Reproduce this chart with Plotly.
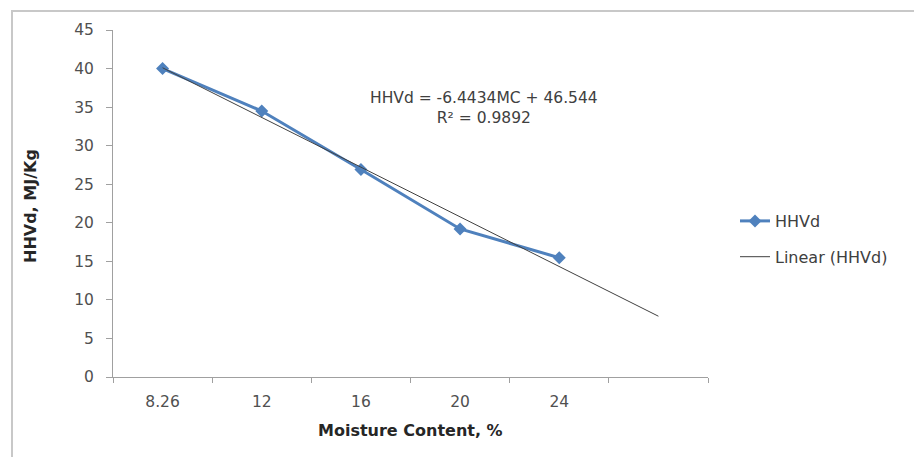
import plotly.graph_objects as go

categories = ["8.26", "12", "16", "20", "24"]
hhvd = [40.0, 34.5, 26.9, 19.2, 15.47]
trend_slope = -6.4434
trend_intercept = 46.544
r_squared = 0.9892
y_ticks = [0, 5, 10, 15, 20, 25, 30, 35, 40, 45]

all_cats = categories + [" "]
trend_x = list(range(1, len(all_cats) + 1))
trend_y = [trend_slope * i + trend_intercept for i in trend_x]

FONT = "'DejaVu Sans', sans-serif"
# page has an 8px body margin; figure sized to fit the window
W, H = 914, 449
L, R, T, B = 105, 214, 22, 80
PW, PH = W - L - R, H - T - B


def px(xf):
    return (xf - L) / PW


def py(yf):
    return (H - B - yf) / PH


fig = go.Figure()
fig.add_trace(go.Scatter(
    x=categories, y=hhvd, name="HHVd", mode="lines+markers", legendgroup="a",
    line=dict(color="#4F81BD", width=3),
    marker=dict(symbol="diamond", size=10, color="#4F81BD"),
))
fig.add_trace(go.Scatter(
    x=all_cats, y=trend_y, name="Linear (HHVd)", mode="lines", legendgroup="b",
    line=dict(color="#404040", width=1),
))

fig.update_layout(
    width=W, height=H,
    margin=dict(l=L, r=R, t=T, b=B),
    paper_bgcolor="white", plot_bgcolor="white",
    font=dict(family=FONT, size=16, color="#404040"),
    showlegend=True,
    legend=dict(x=px(727), y=py(231), xanchor="left", yanchor="middle",
                font=dict(size=16, color="#404040"), tracegroupgap=12,
                bgcolor="rgba(0,0,0,0)"),
    xaxis=dict(type="category", categoryorder="array", categoryarray=all_cats,
               range=[-0.5, 5.5], tickson="boundaries", ticks="outside",
               ticklen=5, tickcolor="#a0a0a0", showline=True, linecolor="#a0a0a0",
               linewidth=1, showgrid=False, zeroline=False, ticklabelstandoff=10,
               tickfont=dict(size=15.5, color="#505050")),
    yaxis=dict(range=[0, 45], tickvals=y_ticks, ticks="outside", ticklen=6,
               tickcolor="#a0a0a0", showline=True, linecolor="#a0a0a0",
               linewidth=1, showgrid=False, zeroline=False, ticklabelstandoff=9,
               tickfont=dict(size=15.5, color="#505050")),
    annotations=[
        dict(xref="paper", yref="paper", x=px(476), y=py(100.5), xanchor="center",
             yanchor="middle", showarrow=False, align="center",
             text=f"HHVd = {trend_slope}MC + {trend_intercept}<br>R² = {r_squared}",
             font=dict(size=15.5, color="#404040")),
        dict(xref="paper", yref="paper", x=px(402), y=py(422), xanchor="center",
             yanchor="middle", showarrow=False,
             text="<b>Moisture Content, %</b>", font=dict(size=16, color="#262626")),
        dict(xref="paper", yref="paper", x=px(22), y=py(198),
             xanchor="center", yanchor="middle", showarrow=False, textangle=-90,
             text="<b>HHVd, MJ/Kg</b>", font=dict(size=16, color="#262626")),
    ],
    shapes=[
        dict(type="rect", xref="paper", yref="paper",
             x0=px(4), x1=px(912), y0=py(462), y1=py(3),
             line=dict(color="#c8c8c8", width=2)),
    ],
)

fig.write_html("out.html")
